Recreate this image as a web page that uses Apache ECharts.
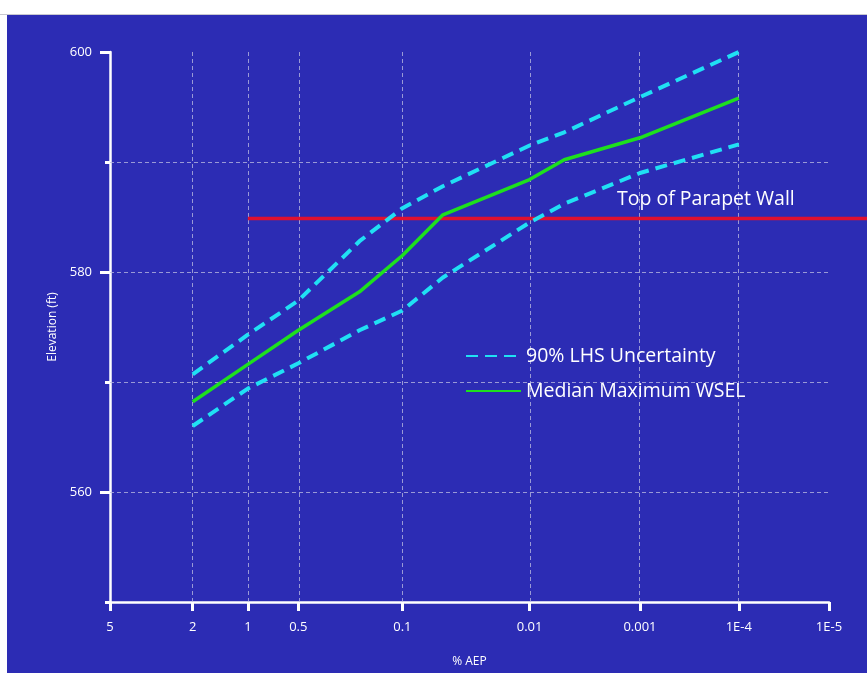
<!DOCTYPE html>
<html>
<head>
<meta charset="utf-8">
<script src="https://cdn.jsdelivr.net/npm/echarts@6/dist/echarts.min.js"></script>
<style>
html,body{margin:0;padding:0;background:#ffffff;}
#chart{width:867px;height:673px;}
</style>
</head>
<body>
<div id="chart"></div>
<script>
// ---- data (AEP in percent, elevation in ft) ----
const aepPct      = [2, 1, 0.5, 0.2, 0.1, 0.05, 0.01, 0.005, 0.001, 0.0001];
const medianWSEL  = [568.2, 571.6, 574.7, 578.2, 581.5, 585.2, 588.4, 590.2, 592.2, 595.8];
const upper90     = [570.7, 574.3, 577.4, 582.8, 585.8, 587.8, 591.5, 592.7, 595.9, 600.0];
const lower90     = [566.0, 569.4, 571.7, 574.7, 576.5, 579.5, 584.5, 586.2, 589.0, 591.6];
const parapetAEP  = [1, 0.000001];
const parapetElev = 585;
const xTickAEP    = [5, 2, 1, 0.5, 0.1, 0.01, 0.001, 0.0001, 0.00001];
const xTickLabels = ['5', '2', '1', '0.5', '0.1', '0.01', '0.001', '1E-4', '1E-5'];
const xGridAEP    = [2, 1, 0.5, 0.1, 0.01, 0.001, 0.0001];
const yGridVals   = [560, 570, 580, 590];
const yMajorTicks = [560, 580, 600];

// normal probability scale: exceedance percent -> standard normal deviate
function invNorm(p) {
  const a = [-3.969683028665376e+01, 2.209460984245205e+02, -2.759285104469687e+02, 1.383577518672690e+02, -3.066479806614716e+01, 2.506628277459239e+00];
  const b = [-5.447609879822406e+01, 1.615858368580409e+02, -1.556989798598866e+02, 6.680131188771972e+01, -1.328068155288572e+01];
  const c = [-7.784894002430293e-03, -3.223964580411365e-01, -2.400758277161838e+00, -2.549732539343734e+00, 4.374664141464968e+00, 2.938163982698783e+00];
  const d = [7.784695709041462e-03, 3.224671290700398e-01, 2.445134137142996e+00, 3.754408661907416e+00];
  const plow = 0.02425, phigh = 1 - plow;
  let q, r;
  if (p < plow) {
    q = Math.sqrt(-2 * Math.log(p));
    return (((((c[0]*q+c[1])*q+c[2])*q+c[3])*q+c[4])*q+c[5]) / ((((d[0]*q+d[1])*q+d[2])*q+d[3])*q+1);
  } else if (p <= phigh) {
    q = p - 0.5; r = q*q;
    return (((((a[0]*r+a[1])*r+a[2])*r+a[3])*r+a[4])*r+a[5])*q / (((((b[0]*r+b[1])*r+b[2])*r+b[3])*r+b[4])*r+1);
  } else {
    q = Math.sqrt(-2 * Math.log(1 - p));
    return -(((((c[0]*q+c[1])*q+c[2])*q+c[3])*q+c[4])*q+c[5]) / ((((d[0]*q+d[1])*q+d[2])*q+d[3])*q+1);
  }
}
function zOf(pct) { return -invNorm(pct / 100); }

const pairs = (vals) => aepPct.map((p, i) => [zOf(p), vals[i]]);
const xTickZ = xTickAEP.map(zOf);

// layout
const W = 867, H = 673;
const gL = 110, gR = 38, gT = 52, gB = 66;
const zMin = zOf(5), zMax = zOf(0.00001);
// wide overlay grid (same scale) so the parapet line runs to the page edge
const zMaxWide = zMin + (zMax - zMin) * (W - gL) / (W - gL - gR);

const gridColor = 'rgba(190,190,225,0.75)';
const font = 'Open Sans';

const chart = echarts.init(document.getElementById('chart'));
chart.setOption({
  backgroundColor: '#2c2cb4',
  animation: false,
  textStyle: { fontFamily: font },
  graphic: [
    { type: 'rect', left: 0, top: 0, shape: { width: W, height: 15 }, style: { fill: '#ffffff' }, z: 100 },
    { type: 'rect', left: 0, top: 14, shape: { width: W, height: 1 }, style: { fill: '#c8c8d0' }, z: 101 },
    { type: 'rect', left: 0, top: 0, shape: { width: 7, height: H }, style: { fill: '#ffffff' }, z: 100 },
    { type: 'text', left: 617, top: 189, style: { text: 'Top of Parapet Wall', fill: '#ffffff', font: '19.5px "Open Sans"' }, z: 50 }
  ],
  grid: [
    { left: gL, right: gR, top: gT, bottom: gB },
    { left: gL, right: 0, top: gT, bottom: gB }
  ],
  legend: {
    data: ['90% LHS Uncertainty', 'Median Maximum WSEL'],
    orient: 'vertical',
    left: 460, top: 341,
    itemWidth: 55, itemHeight: 14, itemGap: 15,
    itemStyle: { opacity: 0, color: 'rgba(0,0,0,0)', borderWidth: 0 },
    textStyle: { color: '#ffffff', fontSize: 19.5, fontFamily: font },
    selectedMode: false
  },
  xAxis: [
    {
      type: 'value', gridIndex: 0,
      min: zMin, max: zMax,
      name: '% AEP', nameLocation: 'middle', nameGap: 54,
      nameTextStyle: { color: '#ffffff', fontSize: 12 },
      axisLine: { lineStyle: { color: '#ffffff', width: 2.5 } },
      axisTick: { customValues: xTickZ, length: 9, lineStyle: { color: '#ffffff', width: 3 } },
      axisLabel: {
        customValues: xTickZ, color: '#ffffff', fontSize: 13, margin: 19,
        formatter: function (v) {
          let best = 0, bd = Infinity;
          xTickZ.forEach((z, i) => { const dd = Math.abs(z - v); if (dd < bd) { bd = dd; best = i; } });
          return xTickLabels[best];
        }
      },
      splitLine: { show: false }
    },
    { type: 'value', gridIndex: 1, min: zMin, max: zMaxWide, show: false }
  ],
  yAxis: [
    {
      type: 'value', gridIndex: 0, min: 550, max: 600, interval: 10,
      name: 'Elevation (ft)', nameLocation: 'middle', nameGap: 50,
      nameTextStyle: { color: '#ffffff', fontSize: 12 },
      axisLine: { show: true, lineStyle: { color: '#ffffff', width: 2.5 } },
      axisTick: { length: 5, lineStyle: { color: '#ffffff', width: 3 } },
      axisLabel: { color: '#ffffff', fontSize: 13, margin: 18, formatter: v => (v % 20 === 0 ? String(v) : '') },
      splitLine: { show: false }
    },
    {
      type: 'value', gridIndex: 0, min: 550, max: 600, interval: 10, position: 'left',
      axisLine: { show: false },
      axisTick: { show: true, customValues: yMajorTicks, length: 10, lineStyle: { color: '#ffffff', width: 3 } },
      axisLabel: { show: false },
      splitLine: { show: false }
    },
    { type: 'value', gridIndex: 1, min: 550, max: 600, show: false }
  ],
  series: [
    {
      name: 'gridlines', type: 'line', data: [], z: 1, silent: true,
      xAxisIndex: 0, yAxisIndex: 0,
      markLine: {
        silent: true, symbol: 'none', animation: false, z: 1,
        label: { show: false },
        lineStyle: { color: gridColor, type: [4, 3], width: 1 },
        data: xGridAEP.map(p => ({ xAxis: zOf(p) })).concat(yGridVals.map(v => ({ yAxis: v })))
      }
    },
    {
      name: 'Top of Parapet Wall', type: 'line', z: 3,
      xAxisIndex: 1, yAxisIndex: 2,
      data: parapetAEP.map(p => [Math.min(zOf(p), zMaxWide), parapetElev]),
      symbol: 'none', lineStyle: { color: '#e01030', width: 3.5 }
    },
    {
      name: '90% LHS Uncertainty', type: 'line', z: 4, data: pairs(upper90),
      xAxisIndex: 0, yAxisIndex: 0,
      symbol: 'none', itemStyle: { color: '#20e0f4' },
      lineStyle: { color: '#20e0f4', width: 4, type: [12, 7] }
    },
    {
      name: '90% LHS Uncertainty', type: 'line', z: 4, data: pairs(lower90),
      xAxisIndex: 0, yAxisIndex: 0,
      symbol: 'none', itemStyle: { color: '#20e0f4' },
      lineStyle: { color: '#20e0f4', width: 4, type: [12, 7] }
    },
    {
      name: 'Median Maximum WSEL', type: 'line', z: 5, data: pairs(medianWSEL),
      xAxisIndex: 0, yAxisIndex: 0,
      symbol: 'none', itemStyle: { color: '#1ee01e' },
      lineStyle: { color: '#1ee01e', width: 3.5 }
    }
  ]
});
</script>
</body>
</html>
